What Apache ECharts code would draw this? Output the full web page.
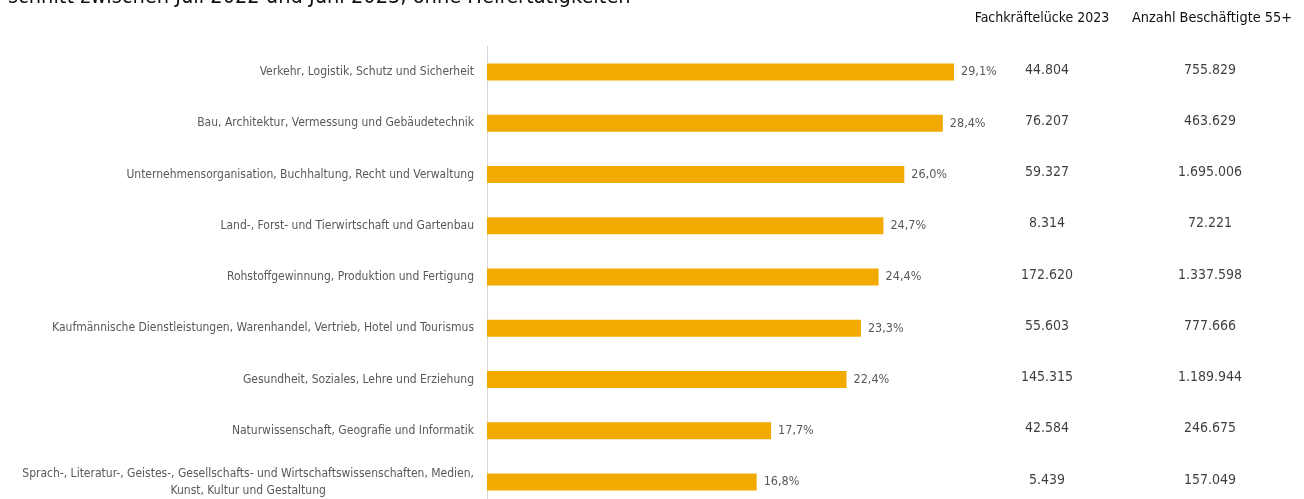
<!DOCTYPE html>
<html>
<head>
<meta charset="utf-8">
<script src="https://cdn.jsdelivr.net/npm/echarts@6/dist/echarts.min.js"></script>
<style>
  html, body { margin: 0; padding: 0; background: #fff; }
  #chart { width: 1304px; height: 499px; }
</style>
</head>
<body>
<div id="chart"></div>
<script>
const categories = [
  'Verkehr, Logistik, Schutz und Sicherheit',
  'Bau, Architektur, Vermessung und Gebäudetechnik',
  'Unternehmensorganisation, Buchhaltung, Recht und Verwaltung',
  'Land-, Forst- und Tierwirtschaft und Gartenbau',
  'Rohstoffgewinnung, Produktion und Fertigung',
  'Kaufmännische Dienstleistungen, Warenhandel, Vertrieb, Hotel und Tourismus',
  'Gesundheit, Soziales, Lehre und Erziehung',
  'Naturwissenschaft, Geografie und Informatik',
  'Sprach-, Literatur-, Geistes-, Gesellschafts- und Wirtschaftswissenschaften, Medien,\nKunst, Kultur und Gestaltung'
];
const shares = [29.1, 28.4, 26.0, 24.7, 24.4, 23.3, 22.4, 17.7, 16.8];
const gap2023 = ['44.804', '76.207', '59.327', '8.314', '172.620', '55.603', '145.315', '42.584', '5.439'];
const workers55 = ['755.829', '463.629', '1.695.006', '72.221', '1.337.598', '777.666', '1.189.944', '246.675', '157.049'];
const columnHeaders = ['Fachkräftelücke 2023', 'Anzahl Beschäftigte 55+'];
const titleText = 'schnitt zwischen Juli 2022 und Juni 2023, ohne Helfertätigkeiten';

const FONT = '"Liberation Sans Narrow", "DejaVu Sans Condensed", "Liberation Sans", sans-serif';
const col1X = 1047, col2X = 1210;

const chart = echarts.init(document.getElementById('chart'));
const rowTop = 72, rowBottom = 482;

chart.setOption({
  animation: false,
  backgroundColor: '#ffffff',
  textStyle: { fontFamily: FONT },
  grid: [
    { left: 487, top: rowTop, width: 642, height: rowBottom - rowTop },
    { left: 0, top: rowTop, width: 1304, height: rowBottom - rowTop },
    { left: 487, top: 46, width: 10, bottom: 0 }
  ],
  xAxis: [
    { type: 'value', gridIndex: 0, min: 0, max: 40, show: false },
    { type: 'value', gridIndex: 1, min: 0, max: 1304, show: false },
    { type: 'value', gridIndex: 2, min: 0, max: 1, show: false }
  ],
  yAxis: [
    {
      type: 'category', gridIndex: 0, data: categories, inverse: true, boundaryGap: false,
      axisLine: { show: false },
      axisTick: { show: false },
      splitLine: { show: false },
      axisLabel: {
        margin: 13, fontSize: 12, color: '#595959', fontFamily: FONT, align: 'right',
        lineHeight: 17,
        formatter: function (v) { return '{c|' + v + '}'; },
        rich: { c: { align: 'center', fontSize: 12, color: '#595959', fontFamily: FONT, lineHeight: 17 } }
      }
    },
    { type: 'category', gridIndex: 1, data: categories, inverse: true, boundaryGap: false, show: false },
    {
      type: 'category', gridIndex: 2, data: categories, inverse: true,
      axisLine: { show: true, lineStyle: { color: '#d9d9d9', width: 1 } },
      axisTick: { show: false }, axisLabel: { show: false }, splitLine: { show: false }
    }
  ],
  series: [
    {
      type: 'bar', xAxisIndex: 0, yAxisIndex: 0, data: shares, barWidth: 17,
      itemStyle: { color: '#F2AA00' },
      label: {
        show: true, position: 'right', distance: 7, fontSize: 12.5, color: '#595959', fontFamily: FONT,
        formatter: function (p) { return p.value.toFixed(1).replace('.', ',') + '%'; }
      }
    },
    {
      type: 'scatter', xAxisIndex: 1, yAxisIndex: 1, symbolSize: 0, silent: true,
      data: gap2023.map(function (v, i) { return [col1X, i, v]; }),
      label: { show: true, position: 'inside', offset: [0, -2], formatter: function (p) { return p.data[2]; },
        fontSize: 14, color: '#0d0d0d', fontFamily: FONT }
    },
    {
      type: 'scatter', xAxisIndex: 1, yAxisIndex: 1, symbolSize: 0, silent: true,
      data: workers55.map(function (v, i) { return [col2X, i, v]; }),
      label: { show: true, position: 'inside', offset: [0, -2], formatter: function (p) { return p.data[2]; },
        fontSize: 14, color: '#0d0d0d', fontFamily: FONT }
    }
  ],
  graphic: [
    { type: 'text', left: 8, top: -14, style: { text: titleText, fontSize: 21.6, fill: '#111111', fontFamily: FONT } },
    { type: 'text', x: 1042, y: 18, style: { text: columnHeaders[0], fontSize: 14, fill: '#111111', fontFamily: FONT, align: 'center', verticalAlign: 'middle' } },
    { type: 'text', x: 1212, y: 18, style: { text: columnHeaders[1], fontSize: 14.4, fill: '#111111', fontFamily: FONT, align: 'center', verticalAlign: 'middle' } }
  ]
});
</script>
</body>
</html>
